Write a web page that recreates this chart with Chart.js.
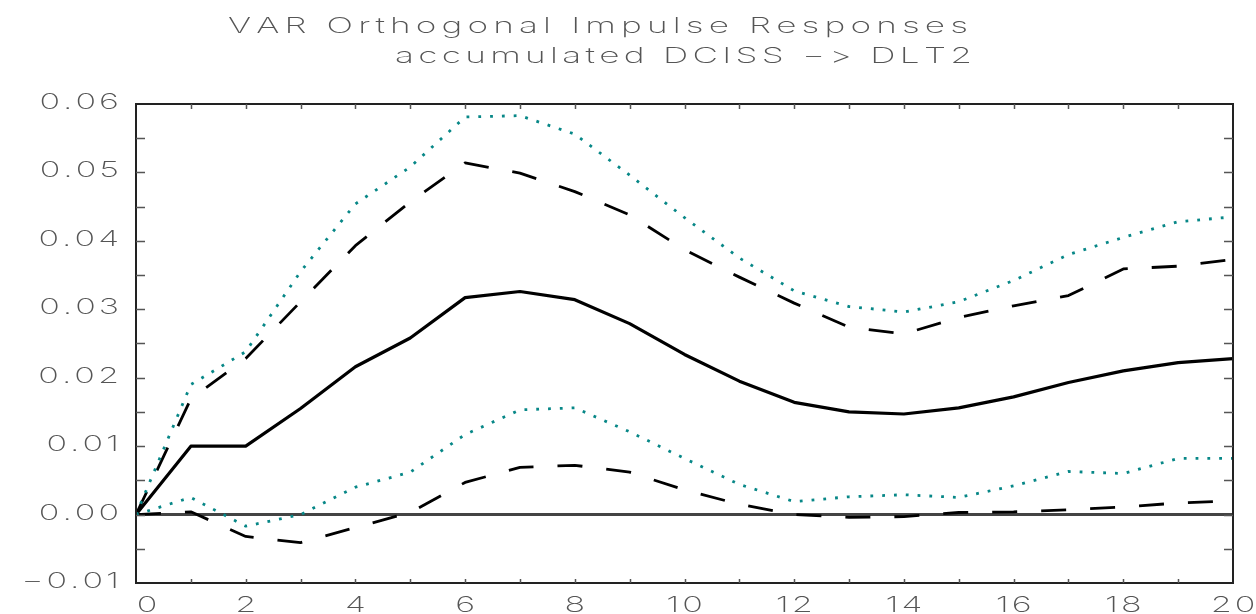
<!DOCTYPE html>
<html>
<head>
<meta charset="utf-8">
<title>VAR Orthogonal Impulse Responses</title>
<script src="https://cdn.jsdelivr.net/npm/chart.js@4.4.1/dist/chart.umd.min.js"></script>
<style>
  html, body { margin: 0; padding: 0; background: #fff; }
  #wrap { width: 1256px; height: 614px; position: relative; }
</style>
</head>
<body>
<div id="wrap"><canvas id="irf" width="1256" height="614"></canvas></div>
<script>
// accumulated response of DLT2 to an orthogonal DCISS shock
const steps = [0, 1, 2, 3, 4, 5, 6, 7, 8, 9, 10, 11, 12, 13, 14, 15, 16, 17, 18, 19, 20];
const response = [0, 0.0100, 0.0100, 0.0155, 0.0216, 0.0258, 0.0317, 0.0326, 0.0314, 0.0279, 0.0234,
  0.0195, 0.0164, 0.0150, 0.0147, 0.0156, 0.0172, 0.0193, 0.0210, 0.0222, 0.0228];

// dashed confidence band
const dashUpper = [0, 0.0169, 0.0228, 0.0311, 0.0393, 0.0457, 0.0514, 0.0499, 0.0472, 0.0438, 0.0387,
  0.0347, 0.0309, 0.0274, 0.0264, 0.0288, 0.0305, 0.0320, 0.0359, 0.0363, 0.0373];
const dashLower = [0, 0.0004, -0.0032, -0.0041, -0.0019, 0.0003, 0.0047, 0.0069, 0.0072, 0.0062, 0.0036,
  0.0015, 0.0000, -0.0004, -0.0003, 0.0003, 0.0004, 0.0007, 0.0011, 0.0017, 0.0020];

// dotted confidence band
const dotUpper = [0, 0.0190, 0.0238, 0.0355, 0.0454, 0.0508, 0.0581, 0.0583, 0.0556, 0.0496, 0.0434,
  0.0375, 0.0327, 0.0304, 0.0296, 0.0311, 0.0342, 0.0380, 0.0405, 0.0428, 0.0435];
const dotLower = [0, 0.0025, -0.0017, 0.0000, 0.0040, 0.0062, 0.0117, 0.0153, 0.0156, 0.0121, 0.0082,
  0.0044, 0.0019, 0.0026, 0.0029, 0.0025, 0.0042, 0.0063, 0.0060, 0.0082, 0.0082];

const xTickLabels = ['0', '2', '4', '6', '8', '10', '12', '14', '16', '18', '20'];
const yTickLabels = ['\u22120.01', '0.00', '0.01', '0.02', '0.03', '0.04', '0.05', '0.06'];
const titleLines = ['VAR Orthogonal Impulse Responses', 'accumulated DCISS \u2212> DLT2'];

const pts = arr => steps.map((s, i) => ({ x: s, y: arr[i] }));
const TEAL = '#078787';
const FONT = '200 22px Inter, "DejaVu Sans", sans-serif';

// draws text one glyph at a time, stretched horizontally with extra spacing
function measureWide(ctx, text, sx, gap) {
  const chars = [...text];
  const adv = chars.map(c => ctx.measureText(c).width * sx);
  const total = adv.reduce((a, b) => a + b, 0) + gap * (chars.length - 1);
  return { chars, adv, total };
}
function drawWide(ctx, text, x, y, sx, gap) {
  const m = measureWide(ctx, text, sx, gap);
  let cx = x;
  m.chars.forEach((c, i) => {
    ctx.save();
    ctx.translate(cx, y);
    ctx.scale(sx, 1);
    ctx.fillText(c, 0, 0);
    ctx.restore();
    cx += m.adv[i] + gap;
  });
  return m.total;
}

const framePlugin = {
  id: 'frame',
  beforeDatasetsDraw(chart) {
    const { ctx, chartArea: a, scales: { y } } = chart;
    const y0 = y.getPixelForValue(0);
    ctx.save();
    ctx.strokeStyle = '#444';
    ctx.lineWidth = 3;
    ctx.beginPath();
    ctx.moveTo(a.left, y0);
    ctx.lineTo(a.right, y0);
    ctx.stroke();
    ctx.restore();
  },
  afterDraw(chart) {
    const { ctx, chartArea: a, scales: { x, y } } = chart;
    ctx.save();

    // box
    ctx.strokeStyle = '#222';
    ctx.lineWidth = 2;
    ctx.strokeRect(a.left, a.top, a.right - a.left, a.bottom - a.top);

    // inward ticks
    ctx.strokeStyle = '#555';
    ctx.lineWidth = 1.5;
    ctx.beginPath();
    for (let v = 1; v < 20; v++) {
      const px = Math.round(x.getPixelForValue(v)) + 0.5;
      ctx.moveTo(px, a.bottom); ctx.lineTo(px, a.bottom - 4);
      ctx.moveTo(px, a.top); ctx.lineTo(px, a.top + 5);
    }
    for (let k = -1; k <= 11; k++) {
      const py = Math.round(y.getPixelForValue(k * 0.005)) + 0.5;
      ctx.moveTo(a.left, py); ctx.lineTo(a.left + 9, py);
      ctx.moveTo(a.right, py); ctx.lineTo(a.right - 9, py);
    }
    ctx.stroke();

    // tick labels
    ctx.font = FONT;
    ctx.fillStyle = '#555';
    ctx.textBaseline = 'alphabetic';
    yTickLabels.forEach((lab, i) => {
      const v = (i - 1) * 0.01;
      const w = measureWide(ctx, lab, 1.55, 3).total;
      drawWide(ctx, lab, 119 - w, y.getPixelForValue(v) + 5, 1.55, 3);
    });
    xTickLabels.forEach(lab => {
      const v = Number(lab);
      const w = measureWide(ctx, lab, 1.55, 3).total;
      const cx = x.getPixelForValue(v) + (v === 0 ? 11 : 0);
      drawWide(ctx, lab, cx - w / 2, 612, 1.55, 3);
    });

    // title, two lines spread to a fixed width
    const spans = [[228, 33, 740], [395, 63, 577]];
    titleLines.forEach((t, i) => {
      const [sx0, base, width] = spans[i];
      const natural = measureWide(ctx, t, 1.6, 0).total;
      const gap = (width - natural) / ([...t].length - 1);
      drawWide(ctx, t, sx0, base, 1.6, gap);
    });
    ctx.restore();
  }
};

new Chart(document.getElementById('irf'), {
  type: 'line',
  data: {
    datasets: [
      { label: 'upper (dotted)', data: pts(dotUpper), borderColor: TEAL, borderWidth: 2.8, borderDash: [2.8, 9] },
      { label: 'lower (dotted)', data: pts(dotLower), borderColor: TEAL, borderWidth: 2.8, borderDash: [2.8, 9] },
      { label: 'upper (dashed)', data: pts(dashUpper), borderColor: '#000', borderWidth: 2.8, borderDash: [25, 24] },
      { label: 'lower (dashed)', data: pts(dashLower), borderColor: '#000', borderWidth: 2.8, borderDash: [25, 24] },
      { label: 'response', data: pts(response), borderColor: '#000', borderWidth: 3.2 }
    ]
  },
  options: {
    responsive: false,
    animation: false,
    events: [],
    layout: { padding: { left: 136, right: 23, top: 104, bottom: 31 } },
    elements: {
      point: { radius: 0 },
      line: { tension: 0, fill: false, borderJoinStyle: 'round', borderCapStyle: 'butt' }
    },
    scales: {
      x: { type: 'linear', min: 0, max: 20, display: false },
      y: { type: 'linear', min: -0.01, max: 0.06, display: false }
    },
    plugins: {
      legend: { display: false },
      tooltip: { enabled: false },
      title: { display: false }
    }
  },
  plugins: [framePlugin]
});
</script>
</body>
</html>
